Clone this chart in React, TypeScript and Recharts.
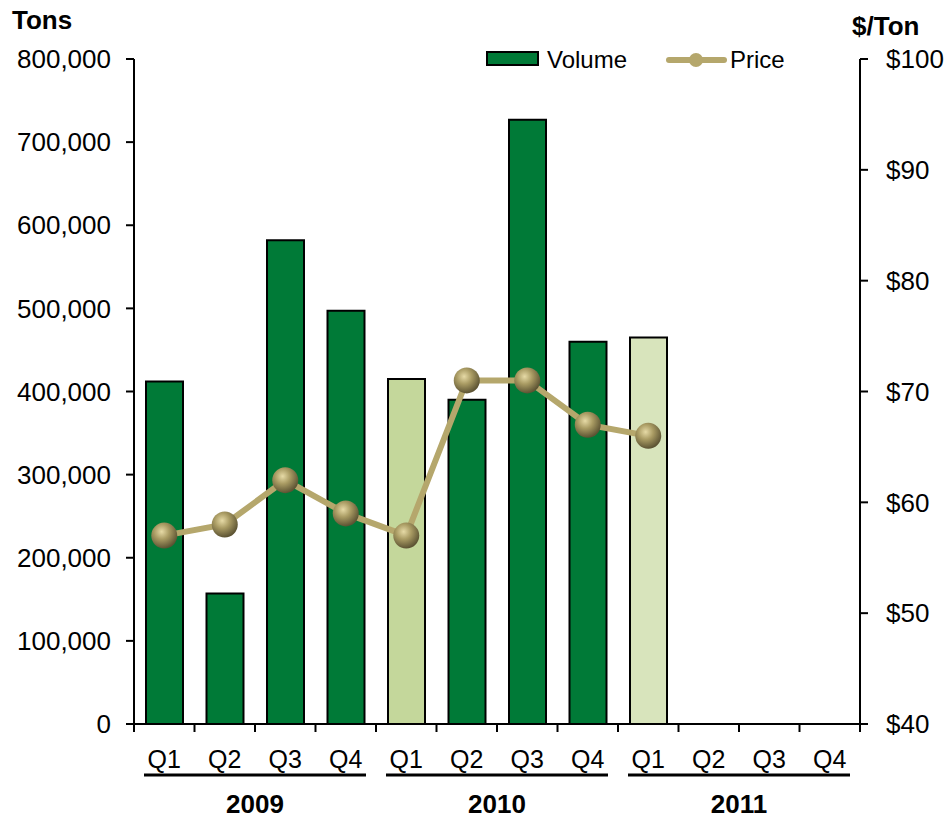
import React from "react";
import {
  ComposedChart,
  Bar,
  Line,
  XAxis,
  YAxis,
  Cell,
} from "recharts";

const years = ["2009", "2010", "2011"];
const quarters = ["Q1", "Q2", "Q3", "Q4"];
const volume: (number | null)[] = [
  412000, 157000, 582000, 497000, 415000, 390000, 727000, 460000, 465000, null, null, null,
];
const price: (number | null)[] = [57, 58, 62, 59, 57, 71, 71, 67, 66, null, null, null];
// bar shade type: 0 = actual, 1 = 2010 Q1 highlight, 2 = 2011 Q1 highlight
const shade = [0, 0, 0, 0, 1, 0, 0, 0, 2, 0, 0, 0];
const volumeTicks = [0, 100000, 200000, 300000, 400000, 500000, 600000, 700000, 800000];
const priceTicks = [40, 50, 60, 70, 80, 90, 100];

const SHADES = ["#007A37", "#C4D79B", "#D8E4BC"];
const LINE = "#B5A76C";
const FONT = "'Liberation Sans', Arial, sans-serif";

const W = 944;
const H = 818;
const LEFT_W = 134;
const RIGHT_W = 84;
const TOP = 59;
const X_H = 94;
const BAND = (W - LEFT_W - RIGHT_W) / 12;

const data = volume.map((v, i) => ({
  id: `${years[Math.floor(i / 4)]}-${quarters[i % 4]}`,
  volume: v,
  price: price[i],
}));

const QTick = (props: any) => {
  const { x, y, index } = props;
  const q = index % 4;
  const half = BAND / 2;
  return (
    <g>
      <line x1={x - half} x2={x - half} y1={y} y2={y + 8} stroke="#000" strokeWidth={2} />
      {index === 11 && (
        <line x1={x + half} x2={x + half} y1={y} y2={y + 8} stroke="#000" strokeWidth={2} />
      )}
      <text x={x} y={y + 44} textAnchor="middle" fontSize={25} fontFamily={FONT} fill="#000">
        {quarters[q]}
      </text>
      {q === 0 && (
        <line
          x1={x - half + 10}
          x2={x - half + 4 * BAND - 10}
          y1={y + 51}
          y2={y + 51}
          stroke="#000"
          strokeWidth={3}
        />
      )}
      {q === 1 && (
        <text
          x={x + half}
          y={y + 89}
          textAnchor="middle"
          fontSize={26}
          fontWeight="bold"
          fontFamily={FONT}
          fill="#000"
        >
          {years[Math.floor(index / 4)]}
        </text>
      )}
    </g>
  );
};

const Ball = (props: any) => {
  const { cx, cy, value } = props;
  if (value == null || cx == null || cy == null) return null;
  return <circle cx={cx} cy={cy} r={13} fill="url(#ballGrad)" />;
};

export default function App() {
  return (
    <div style={{ position: "absolute", left: 0, top: 0, width: W, height: H, background: "#fff" }}>
      <ComposedChart
        width={W}
        height={H}
        data={data}
        margin={{ top: TOP, right: 0, bottom: 0, left: 0 }}
        barCategoryGap={0}
      >
        <defs>
          <radialGradient id="ballGrad" cx="40%" cy="35%" r="65%">
            <stop offset="0%" stopColor="#E6DAA6" />
            <stop offset="45%" stopColor="#A99B63" />
            <stop offset="100%" stopColor="#5C5333" />
          </radialGradient>
        </defs>
        <XAxis
          dataKey="id"
          height={X_H}
          interval={0}
          tickLine={false}
          tickSize={0}
          tickMargin={0}
          axisLine={{ stroke: "#000", strokeWidth: 2 }}
          tick={<QTick />}
        />
        <YAxis
          yAxisId="vol"
          orientation="left"
          width={LEFT_W}
          domain={[0, 800000]}
          ticks={volumeTicks}
          interval={0}
          tickSize={8}
          tickMargin={15}
          axisLine={{ stroke: "#000", strokeWidth: 2 }}
          tickLine={{ stroke: "#000", strokeWidth: 2 }}
          tick={{ fill: "#000", fontSize: 26, fontFamily: FONT }}
          tickFormatter={(v: number) => v.toLocaleString("en-US")}
        />
        <YAxis
          yAxisId="price"
          orientation="right"
          width={RIGHT_W}
          domain={[40, 100]}
          ticks={priceTicks}
          interval={0}
          tickSize={8}
          tickMargin={18}
          axisLine={{ stroke: "#000", strokeWidth: 2 }}
          tickLine={{ stroke: "#000", strokeWidth: 2 }}
          tick={{ fill: "#000", fontSize: 26, fontFamily: FONT, textAnchor: "start" }}
          tickFormatter={(v: number) => `$${v}`}
        />
        <Bar yAxisId="vol" dataKey="volume" barSize={37} stroke="#000" strokeWidth={2} isAnimationActive={false}>
          {data.map((d, i) => (
            <Cell key={d.id} fill={SHADES[shade[i]]} />
          ))}
        </Bar>
        <Line
          yAxisId="price"
          dataKey="price"
          stroke={LINE}
          strokeWidth={6}
          dot={<Ball />}
          activeDot={false}
          isAnimationActive={false}
        />
      </ComposedChart>
      <svg
        width={W}
        height={H}
        style={{ position: "absolute", left: 0, top: 0, pointerEvents: "none" }}
      >
        <text x={12} y={29} fontSize={26} fontWeight="bold" fontFamily={FONT} fill="#000">
          Tons
        </text>
        <text x={852} y={35} fontSize={26} fontWeight="bold" fontFamily={FONT} fill="#000">
          $/Ton
        </text>
        <rect x={487} y={52} width={51} height={13} fill={SHADES[0]} stroke="#000" strokeWidth={2} />
        <text x={547} y={68} fontSize={24} fontFamily={FONT} fill="#000">
          Volume
        </text>
        <line x1={669} x2={724} y1={60} y2={60} stroke={LINE} strokeWidth={6} strokeLinecap="round" />
        <circle cx={696} cy={60} r={7} fill={LINE} />
        <text x={730} y={68} fontSize={24} fontFamily={FONT} fill="#000">
          Price
        </text>
      </svg>
    </div>
  );
}
